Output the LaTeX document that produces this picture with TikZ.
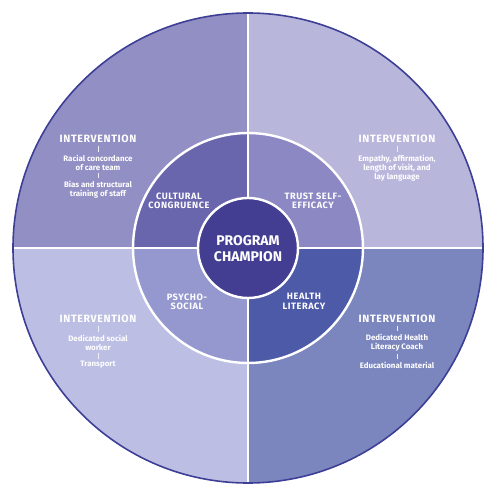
\documentclass[tikz,border=0pt]{standalone}
\usepackage{fontspec}
\setmainfont{Fira Sans}
\newfontfamily\headfont[LetterSpace=6]{Fira Sans}
\definecolor{otl}{HTML}{928FC4}
\definecolor{otr}{HTML}{B9B6DC}
\definecolor{obl}{HTML}{BCBEE3}
\definecolor{obr}{HTML}{7B86BE}
\definecolor{mtl}{HTML}{6966AE}
\definecolor{mtr}{HTML}{8C88C4}
\definecolor{mbl}{HTML}{9598CF}
\definecolor{mbr}{HTML}{4D5AA8}
\definecolor{ctr}{HTML}{433E92}
\definecolor{rim}{HTML}{3D3F96}
\tikzset{
  head/.style={text=white,inner sep=0pt,font=\headfont\bfseries\fontsize{10.6}{10.6}\selectfont},
  item/.style={text=white,inner sep=0pt,align=center,font=\bfseries\fontsize{7.9}{9}\selectfont},
  mid/.style={text=white,inner sep=0pt,align=center,font=\headfont\bfseries\fontsize{9.2}{9.3}\selectfont},
  champ/.style={text=white,inner sep=0pt,align=center,font=\bfseries\fontsize{14}{15.3}\selectfont},
  tick/.style={white!85!otl,line width=0.5pt,shorten >=2.5pt,shorten <=2.5pt},
  sep/.style={white,line width=2.4pt}
}
\begin{document}
\begin{tikzpicture}
\useasboundingbox (-248pt,-252pt) rectangle (252pt,248pt);
% outer quadrants
\fill[otl] (0,0) -- (180:235pt) arc[start angle=180,end angle=90,radius=235pt] -- cycle;
\fill[otr] (0,0) -- (90:235pt) arc[start angle=90,end angle=0,radius=235pt] -- cycle;
\fill[obl] (0,0) -- (180:235pt) arc[start angle=180,end angle=270,radius=235pt] -- cycle;
\fill[obr] (0,0) -- (270:235pt) arc[start angle=270,end angle=360,radius=235pt] -- cycle;
% middle quadrants
\fill[mtl] (0,0) -- (180:115pt) arc[start angle=180,end angle=90,radius=115pt] -- cycle;
\fill[mtr] (0,0) -- (90:115pt) arc[start angle=90,end angle=0,radius=115pt] -- cycle;
\fill[mbl] (0,0) -- (180:115pt) arc[start angle=180,end angle=270,radius=115pt] -- cycle;
\fill[mbr] (0,0) -- (270:115pt) arc[start angle=270,end angle=360,radius=115pt] -- cycle;
% separators
\draw[sep] (-235pt,0) -- (235pt,0);
\draw[sep] (0,-235pt) -- (0,235pt);
\draw[sep] (0,0) circle[radius=115pt];
\fill[ctr] (0,0) circle[radius=50pt];
\draw[sep] (0,0) circle[radius=50pt];
\draw[rim,line width=1.6pt] (0,0) circle[radius=235pt];
% center
\node[champ] (champ) at (0pt,-0.5pt) {PROGRAM\\CHAMPION};
% middle ring labels
\node[mid] (cul) at (-69pt,47.5pt) {CULTURAL\\CONGRUENCE};
\node[mid] (tru) at (65pt,47.5pt) {TRUST SELF-\\EFFICACY};
\node[mid] (psy) at (-61pt,-53.5pt) {PSYCHO-\\SOCIAL};
\node[mid] (hea) at (56pt,-53.5pt) {HEALTH\\LITERACY};
% top-left
\node[head] (tlh) at (-150pt,109pt) {INTERVENTION};
\node[item] (tla) at (-150pt,85.5pt) {Racial concordance\\of care team};
\node[item] (tlb) at (-150pt,58.5pt) {Bias and structural\\training of staff};
\draw[tick] (tlh.south) -- (tla.north);
\draw[tick] (tla.south) -- (tlb.north);
% top-right
\node[head] (trh) at (149pt,109pt) {INTERVENTION};
\node[item] (tra) at (149pt,80pt) {Empathy, affirmation,\\length of visit, and\\lay language};
\draw[tick] (trh.south) -- (tra.north);
% bottom-left
\node[head] (blh) at (-150pt,-71pt) {INTERVENTION};
\node[item] (bla) at (-150pt,-94.5pt) {Dedicated social\\worker};
\node[item] (blb) at (-150pt,-117pt) {Transport};
\draw[tick] (blh.south) -- (bla.north);
\draw[tick] (bla.south) -- (blb.north);
% bottom-right
\node[head] (brh) at (149pt,-71pt) {INTERVENTION};
\node[item] (bra) at (149pt,-94.5pt) {Dedicated Health\\Literacy Coach};
\node[item] (brb) at (149pt,-117pt) {Educational material};
\draw[tick] (brh.south) -- (bra.north);
\draw[tick] (bra.south) -- (brb.north);
\end{tikzpicture}
\end{document}
